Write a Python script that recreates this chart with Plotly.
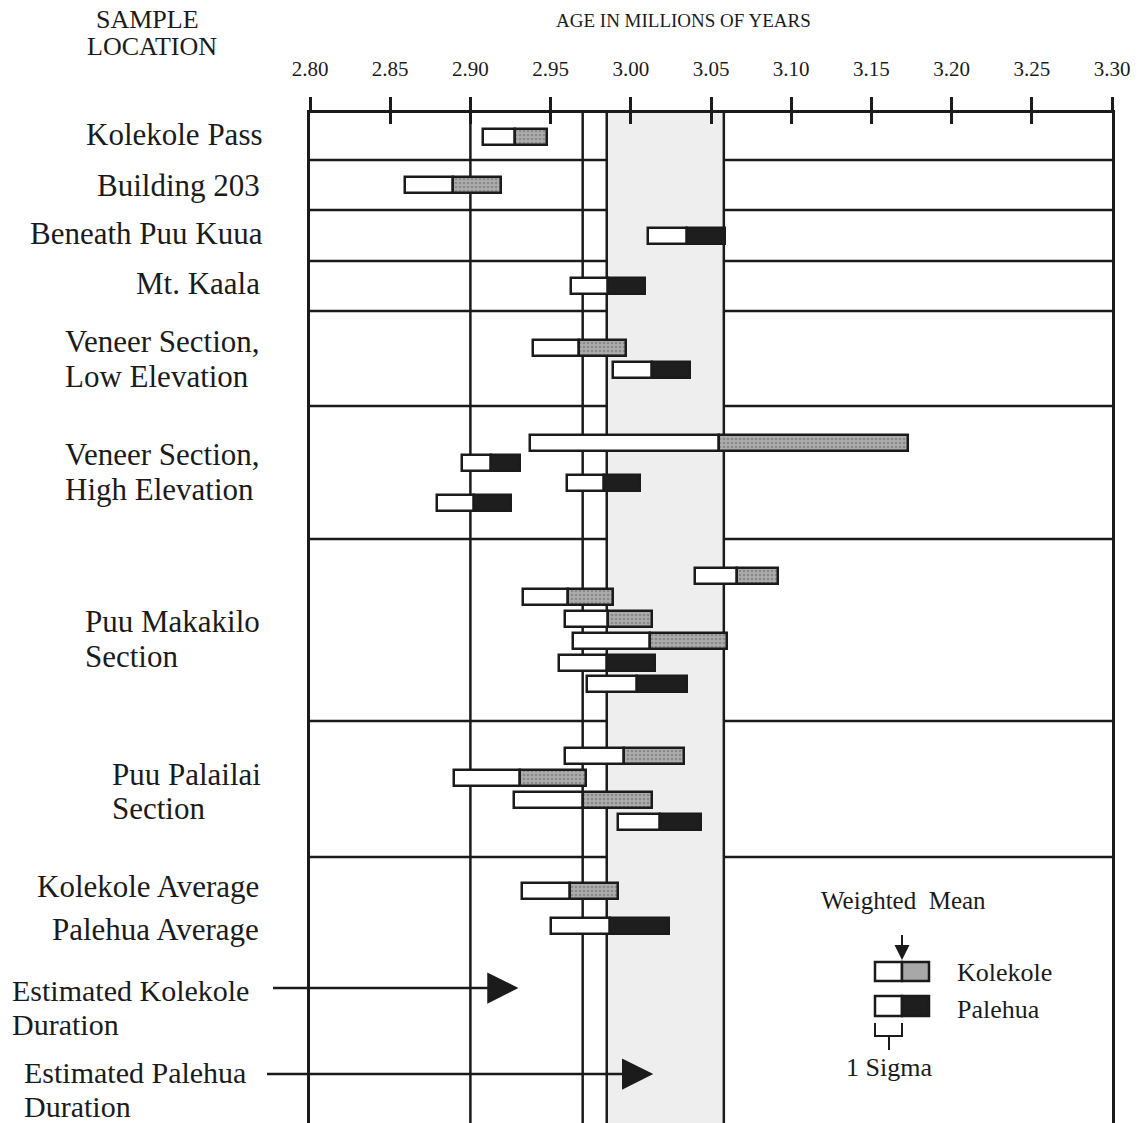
import plotly.graph_objects as go

# ---------------- data ----------------
LOCATIONS = ["Kolekole Pass", "Building 203", "Beneath Puu Kuua", "Mt. Kaala",
             "Veneer Section,\nLow Elevation", "Veneer Section,\nHigh Elevation",
             "Puu Makakilo\nSection", "Puu Palailai\nSection",
             "Kolekole Average\nPalehua Average"]

# age (Ma) weighted mean and 1-sigma, per location, Kolekole then Palehua
KOLEKOLE_MEAN = [[2.928], [2.889], [], [], [2.968], [3.055],
                 [3.066, 2.961, 2.986, 3.012], [2.996, 2.931, 2.970], [2.962]]
KOLEKOLE_SIGMA = [[0.020], [0.030], [], [], [0.029], [0.118],
                  [0.026, 0.028, 0.027, 0.048], [0.037, 0.041, 0.043], [0.030]]
PALEHUA_MEAN = [[], [], [3.035], [2.986], [3.013], [2.913, 2.983, 2.902],
                [2.985, 3.004], [3.018], [2.987]]
PALEHUA_SIGMA = [[], [], [0.024], [0.023], [0.024], [0.018, 0.023, 0.023],
                 [0.030, 0.031], [0.026], [0.037]]

DURATION_LABELS = ["Estimated Kolekole\nDuration", "Estimated Palehua\nDuration"]
DURATION_END = [2.930, 3.014]

REF_LINES = [2.90, 2.97, 2.985, 3.058]
SHADE = [2.985, 3.058]

X_TICKS = [2.80, 2.85, 2.90, 2.95, 3.00, 3.05, 3.10, 3.15, 3.20, 3.25, 3.30]
X_TICK_LABELS = ["2.80", "2.85", "2.90", "2.95", "3.00", "3.05", "3.10",
                 "3.15", "3.20", "3.25", "3.30"]
X_RANGE = [2.80, 3.30]

# ---------------- layout / style ----------------
W, H = 1147, 1123
ML, MR, MT, MB = 310, 35, 113, 0
PW = W - ML - MR
PH = H - MT - MB
FONT = "Liberation Serif, Times New Roman, serif"
INK = "#1b1b1b"
LW = 2.5

ROW_HEIGHTS = [47, 50, 51, 50, 95, 133, 182, 136, 103]
SLOT_SPACING = [22, 22, 22, 22, 22, 20, 21.7, 22, 35]
BAR_THICK = 16
# label placement: (anchor, x pixel, y offsets of each line from row centre)
LABEL_PLACE = [("right", 265, [-2]), ("right", 262, [1]), ("right", 265, [-2]),
               ("right", 262, [-3]), ("left", 63, [-17, 18]), ("left", 63, [-18, 17]),
               ("left", 83, [-9, 26]), ("left", 110, [-15, 19]),
               ("right", 261, [-22, 21])]
DUR_PLACE = [(10, 990, 1024, 270), (22, 1072, 1106, 264)]  # x, y line1, y line2, arrow tail x
ARROW_Y = [988, 1074]


def px_to_paper(px):
    return (px - ML) / PW


def py_to_paper(py):
    return 1 - (py - MT) / PH


def x_to_px(v):
    return ML + (v - X_RANGE[0]) / (X_RANGE[1] - X_RANGE[0]) * PW


# row geometry
tops = []
t = MT
for h in ROW_HEIGHTS:
    tops.append(t)
    t += h
centers = [tp + h / 2 for tp, h in zip(tops, ROW_HEIGHTS)]

k_y, k_m, k_s, p_y, p_m, p_s = [], [], [], [], [], []
for i in range(len(LOCATIONS)):
    n = len(KOLEKOLE_MEAN[i]) + len(PALEHUA_MEAN[i])
    slots = [centers[i] + (j - (n - 1) / 2) * SLOT_SPACING[i] for j in range(n)]
    nk = len(KOLEKOLE_MEAN[i])
    for j, (m, s) in enumerate(zip(KOLEKOLE_MEAN[i], KOLEKOLE_SIGMA[i])):
        k_y.append(slots[j]); k_m.append(m); k_s.append(s)
    for j, (m, s) in enumerate(zip(PALEHUA_MEAN[i], PALEHUA_SIGMA[i])):
        p_y.append(slots[nk + j]); p_m.append(m); p_s.append(s)


def bars(ys, base, length, color, pattern=None):
    marker = dict(color=color, line=dict(color=INK, width=LW))
    if pattern:
        marker["pattern"] = pattern
    return go.Bar(orientation="h", y=ys, x=length, base=base, width=BAR_THICK,
                  marker=marker, showlegend=False, hoverinfo="skip")


gray_pattern = dict(shape=".", fgcolor="#666666", bgcolor="#acacac", size=4, solidity=0.35)

fig = go.Figure()
fig.add_trace(bars(k_y, [m - s for m, s in zip(k_m, k_s)], k_s, "white"))
fig.add_trace(bars(k_y, k_m, k_s, "#a8a8a8", gray_pattern))
fig.add_trace(bars(p_y, [m - s for m, s in zip(p_m, p_s)], p_s, "white"))
fig.add_trace(bars(p_y, p_m, p_s, "#1e1e1e"))
fig.add_trace(go.Scatter(x=[], y=[], xaxis="x2", showlegend=False))

shapes = []
# shaded interval
shapes.append(dict(type="rect", xref="x", yref="y", x0=SHADE[0], x1=SHADE[1],
                   y0=MT, y1=H, fillcolor="#eeeeee", line=dict(width=0), layer="below"))
# vertical reference lines
for v in REF_LINES:
    shapes.append(dict(type="line", xref="x", yref="y", x0=v, x1=v, y0=MT, y1=H,
                       line=dict(color=INK, width=LW), layer="below"))
# row separators
for tp in tops[1:]:
    shapes.append(dict(type="line", xref="paper", yref="y", x0=0, x1=1, y0=tp, y1=tp,
                       line=dict(color=INK, width=LW), layer="below"))

annotations = []


def text(xpx, y, s, anchor="center", size=31):
    annotations.append(dict(xref="paper", yref="paper", x=px_to_paper(xpx), y=py_to_paper(y),
                            text=s, showarrow=False, xanchor=anchor, yanchor="middle",
                            font=dict(family=FONT, size=size, color=INK)))


# location labels
for i, lab in enumerate(LOCATIONS):
    anchor, xpx, offs = LABEL_PLACE[i]
    for line, off in zip(lab.split("\n"), offs):
        text(xpx, centers[i] + off, line, anchor)

# duration labels and arrows
for lab, end, (xl, y1, y2, tail), ay in zip(DURATION_LABELS, DURATION_END, DUR_PLACE, ARROW_Y):
    l1, l2 = lab.split("\n")
    text(xl, y1, l1, "left", 30)
    text(xl, y2, l2, "left", 30)
    annotations.append(dict(xref="x", yref="y", x=end, y=ay, axref="pixel", ayref="pixel",
                            ax=tail - x_to_px(end), ay=0, showarrow=True, arrowhead=2,
                            arrowsize=2.5, arrowwidth=LW, arrowcolor=INK, standoff=0))

# headers
text(683, 21, "AGE IN MILLIONS OF YEARS", size=19)
text(147, 20, "SAMPLE", size=26)
text(152, 47, "LOCATION", size=26)

# key
text(903, 900, "Weighted\u00a0\u00a0Mean", size=25)
annotations.append(dict(xref="paper", yref="y", x=px_to_paper(902), y=960, ax=0, ay=-35,
                        axref="pixel", ayref="pixel", showarrow=True, arrowhead=2,
                        arrowsize=1.5, arrowwidth=2, arrowcolor=INK, standoff=0))
kx0, kxm, kx1 = px_to_paper(875), px_to_paper(902), px_to_paper(929)
for (y0, y1, col) in [(962, 981, "#a8a8a8"), (996, 1016, "#1e1e1e")]:
    shapes.append(dict(type="rect", xref="paper", yref="y", x0=kx0, x1=kxm, y0=y0, y1=y1,
                       fillcolor="white", line=dict(color=INK, width=LW)))
    shapes.append(dict(type="rect", xref="paper", yref="y", x0=kxm, x1=kx1, y0=y0, y1=y1,
                       fillcolor=col, line=dict(color=INK, width=LW)))
text(955, 972, "Kolekole", "left", 26)
text(955, 1009, "Palehua", "left", 26)
bx = px_to_paper(889)
shapes.append(dict(type="path", xref="paper", yref="y",
                   path=f"M{kx0},1023 L{kx0},1036 L{kxm},1036 L{kxm},1023 M{bx},1036 L{bx},1050",
                   line=dict(color=INK, width=2)))
text(889, 1067, "1 Sigma", size=26)

tick_font = dict(family=FONT, size=21, color=INK)
fig.update_layout(
    width=W, height=H, margin=dict(l=ML, r=MR, t=MT, b=MB),
    paper_bgcolor="white", plot_bgcolor="rgba(0,0,0,0)",
    barmode="overlay", bargap=0,
    shapes=shapes, annotations=annotations,
    xaxis=dict(range=X_RANGE, side="top", tickvals=X_TICKS, ticktext=X_TICK_LABELS,
               ticks="outside", ticklen=13, tickwidth=LW, tickcolor=INK,
               showline=True, linewidth=LW, linecolor=INK, mirror=False,
               showgrid=False, zeroline=False, tickfont=tick_font,
               ticklabelstandoff=13, fixedrange=True),
    xaxis2=dict(range=X_RANGE, overlaying="x", side="top", anchor="y", matches="x",
                tickvals=X_TICKS, ticks="inside", ticklen=11, tickwidth=LW,
                tickcolor=INK, showticklabels=False, showline=False,
                showgrid=False, zeroline=False),
    yaxis=dict(range=[H - MB, MT], showline=True, linewidth=LW, linecolor=INK,
               mirror=True, showticklabels=False, ticks="", showgrid=False,
               zeroline=False, fixedrange=True),
)

fig.write_html("out.html", config={"displayModeBar": False},
               post_script="document.body.style.margin='0';document.body.style.overflow='hidden';")
